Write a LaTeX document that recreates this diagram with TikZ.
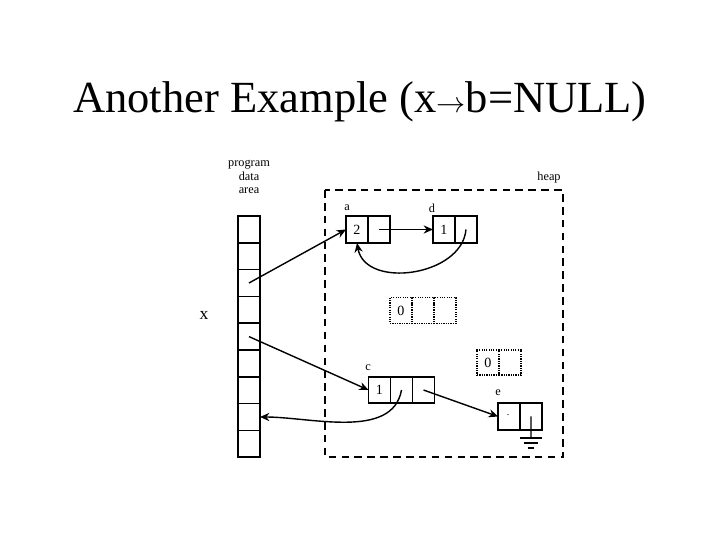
\documentclass[tikz,border=0pt]{standalone}
\usepackage{fontspec}
\setmainfont{Liberation Serif}
\usetikzlibrary{arrows.meta,positioning}

\begin{document}
\begin{tikzpicture}[
  x=0.03cm,
  y=-0.03cm,
  every node/.style={font=\normalsize},
  cell/.style={draw, line width=1.2pt, minimum width=0.66cm, minimum height=0.81cm,
    inner sep=0pt, outer sep=0pt, font=\fontsize{12}{12}\selectfont},
  ghost/.style={cell, line width=1pt, densely dotted},
  slot/.style={draw, line width=1.3pt, minimum width=0.66cm, minimum height=0.804cm,
    inner sep=0pt, outer sep=0pt},
  ptr/.style={line width=1.2pt, -{Stealth[length=8pt, width=7pt]}},
  tag/.style={inner sep=0pt, font=\fontsize{10.5}{11.5}\selectfont},
  heapline/.style={line width=1.2pt, dash pattern=on 6.5pt off 4.5pt}
]
  % ---- page frame --------------------------------------------------------
  \useasboundingbox (0,0) rectangle (720,540);

  % ---- title -------------------------------------------------------------
  \node[anchor=base, font=\fontsize{38}{40}\selectfont] (title) at (360,113)
    {Another Example (x$\rightarrow$b=NULL)};

  % ---- program data area -------------------------------------------------
  \node[tag, align=center] (arealab) at (249,177) {program\\data\\area};
  \foreach \i in {1,...,9}
    \node[slot] (s\i) at (249,{216+26.8*(\i-0.5)}) {};
  \node[inner sep=0pt, font=\fontsize{15}{15}\selectfont] (xlab) at (204,315) {x};

  % ---- heap --------------------------------------------------------------
  \draw[heapline] (325,190) rectangle (563,457);
  \node[tag] (heaplab) at (549,178) {heap};

  % ---- records a and d ---------------------------------------------------
  \node[cell] (a1) at (357,229.5) {2};
  \node[cell, right=0pt of a1] (a2) {};
  \node[tag] (alab) at (347,208) {a};
  \node[cell] (d1) at (444,229.5) {1};
  \node[cell, right=0pt of d1] (d2) {};
  \node[tag] (dlab) at (432,208) {d};

  % ---- freed cells -------------------------------------------------------
  \node[ghost, minimum height=0.78cm] (f1) at (401,310.5) {0};
  \node[ghost, minimum height=0.78cm, right=0pt of f1] (f2) {};
  \node[ghost, minimum height=0.78cm, right=0pt of f2] (f3) {};
  \node[ghost, minimum height=0.75cm] (g1) at (488,362.5) {0};
  \node[ghost, minimum height=0.75cm, right=0pt of g1] (g2) {};

  % ---- record c ----------------------------------------------------------
  \node[cell, minimum height=0.78cm] (c1) at (379.5,390) {1};
  \node[cell, minimum height=0.78cm, right=0pt of c1] (c2) {};
  \node[cell, minimum height=0.78cm, right=0pt of c2] (c3) {};
  \node[tag] (clab) at (368,368) {c};

  % ---- record e ----------------------------------------------------------
  \node[cell] (e1) at (509,416.5) {};
  \node[cell, right=0pt of e1] (e2) {};
  \node[tag] (elab) at (498,393) {e};
  \fill (e1.center) ++(-1,-2) circle (0.6pt);

  % ---- null pointer (ground) ---------------------------------------------
  \coordinate (gnd) at (531,438);
  \draw[line width=1.1pt] (e2.center) -- (gnd);
  \draw[line width=1.2pt] ([xshift=-0.33cm]gnd) -- ([xshift=0.33cm]gnd);
  \draw[line width=1.2pt] ([xshift=-0.2cm, yshift=-0.15cm]gnd) -- ([xshift=0.2cm, yshift=-0.15cm]gnd);
  \draw[line width=1.2pt] ([xshift=-0.1cm, yshift=-0.3cm]gnd) -- ([xshift=0.1cm, yshift=-0.3cm]gnd);

  % ---- pointers ----------------------------------------------------------
  \draw[ptr] (s3.center) -- (a1.west);
  \draw[ptr] (a2.center) -- (d1.west);
  \draw[ptr] (d2.center) to[out=-95, in=-80, looseness=1.1] (a1.south);
  \draw[ptr] (s5.center) -- (c1.west);
  \draw[ptr] (c3.center) -- (e1.west);
  \draw[ptr] (c2.center) to[out=-100, in=0, looseness=0.9] (s8.east);
\end{tikzpicture}
\end{document}
